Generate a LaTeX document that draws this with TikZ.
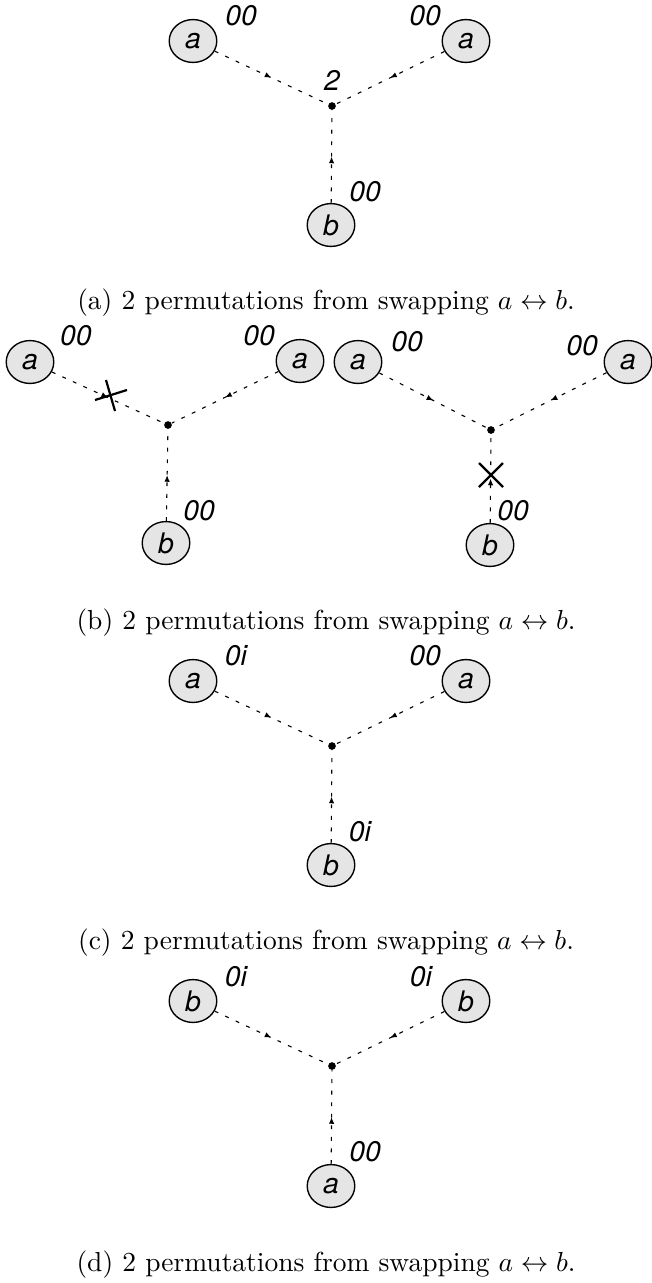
\documentclass[tikz,border=0pt]{standalone}
\usepackage{fontspec}
\newfontfamily\lblfont{TeX Gyre Heros}
\usetikzlibrary{shapes.geometric,arrows.meta,decorations.markings}

\begin{document}
\begin{tikzpicture}[
    x=0.3636pt, y=-0.3636pt,
    leaf/.style={ellipse, draw, line width=0.5pt, fill=black!10,
        minimum width=17.3pt, minimum height=15.6pt, inner sep=0pt,
        font=\lblfont\itshape\fontsize{10.3}{12}\selectfont},
    hub/.style={circle, fill=black, inner sep=0pt, minimum size=2.8pt},
    flow/.style={line width=0.4pt, dash pattern=on 1.4pt off 2.8pt,
        decoration={markings, mark=at position 0.5 with {\arrow{Latex[length=2.4pt,width=2pt]}}},
        postaction=decorate},
    lbl/.style={font=\lblfont\itshape\fontsize{10.3}{12}\selectfont, inner sep=0pt},
    cut/.style={line width=0.8pt},
    caption/.style={inner sep=0pt}
]
    \useasboundingbox (0,0) rectangle (652,1283);

    % --- (a) ---
    \node[leaf] (aL) at (193,41) {a};
    \node[leaf] (aR) at (466,41) {a};
    \node[leaf] (aB) at (331,225) {b};
    \node[hub] (aH) at (332,106) {};

    \draw[flow] (aL) -- (aH);
    \draw[flow] (aR) -- (aH);
    \draw[flow] (aB) -- (aH);

    \node[lbl] (aLl) at (241,16) {00};
    \node[lbl] (aRl) at (425,16) {00};
    \node[lbl] (aHl) at (332,80) {2};
    \node[lbl] (aBl) at (365,192) {00};

    \node[caption] (capA) at (326,303) {(a) 2 permutations from swapping $a \leftrightarrow b$.};

    % --- (b) ---
    \begin{scope}[shift={(0,320)}]
        % left copy, cut on the upper left edge
        \node[leaf] (bL1) at (30,42) {a};
        \node[leaf] (bR1) at (300,41) {a};
        \node[leaf] (bB1) at (166,223) {b};
        \node[hub] (bH1) at (168,105) {};

        \draw[flow] (bL1) -- (bH1);
        \draw[flow] (bR1) -- (bH1);
        \draw[flow] (bB1) -- (bH1);

        \node[lbl] (bL1l) at (76,16) {00};
        \node[lbl] (bR1l) at (259,16) {00};
        \node[lbl] (bB1l) at (199,191) {00};

        \draw[cut] (95,80) -- (127,70);
        \draw[cut] (106,60) -- (115,91);

        % right copy, cut on the lower edge
        \node[leaf] (bL2) at (358,42) {a};
        \node[leaf] (bR2) at (628,42) {a};
        \node[leaf] (bB2) at (490,225) {b};
        \node[hub] (bH2) at (491,110) {};

        \draw[flow] (bL2) -- (bH2);
        \draw[flow] (bR2) -- (bH2);
        \draw[flow] (bB2) -- (bH2);

        \node[lbl] (bL2l) at (407,22) {00};
        \node[lbl] (bR2l) at (582,26) {00};
        \node[lbl] (bB2l) at (513,191) {00};

        \draw[cut] (479,143) -- (503,167);
        \draw[cut] (479,167) -- (503,143);

        \node[caption] (capB) at (326,303) {(b) 2 permutations from swapping $a \leftrightarrow b$.};
    \end{scope}

    % --- (c) ---
    \begin{scope}[shift={(0,640)}]
        \node[leaf] (cL) at (193,41) {a};
        \node[leaf] (cR) at (466,41) {a};
        \node[leaf] (cB) at (331,225) {b};
        \node[hub] (cH) at (332,106) {};

        \draw[flow] (cL) -- (cH);
        \draw[flow] (cR) -- (cH);
        \draw[flow] (cB) -- (cH);

        \node[lbl] (cLl) at (236,16) {0i};
        \node[lbl] (cRl) at (425,16) {00};
        \node[lbl] (cBl) at (360,192) {0i};

        \node[caption] (capC) at (326,303) {(c) 2 permutations from swapping $a \leftrightarrow b$.};
    \end{scope}

    % --- (d) ---
    \begin{scope}[shift={(0,960)}]
        \node[leaf] (dL) at (193,41) {b};
        \node[leaf] (dR) at (466,41) {b};
        \node[leaf] (dB) at (331,226) {a};
        \node[hub] (dH) at (332,106) {};

        \draw[flow] (dL) -- (dH);
        \draw[flow] (dR) -- (dH);
        \draw[flow] (dB) -- (dH);

        \node[lbl] (dLl) at (236,17) {0i};
        \node[lbl] (dRl) at (421,17) {0i};
        \node[lbl] (dBl) at (365,192) {00};

        \node[caption] (capD) at (326,305) {(d) 2 permutations from swapping $a \leftrightarrow b$.};
    \end{scope}

\end{tikzpicture}
\end{document}
